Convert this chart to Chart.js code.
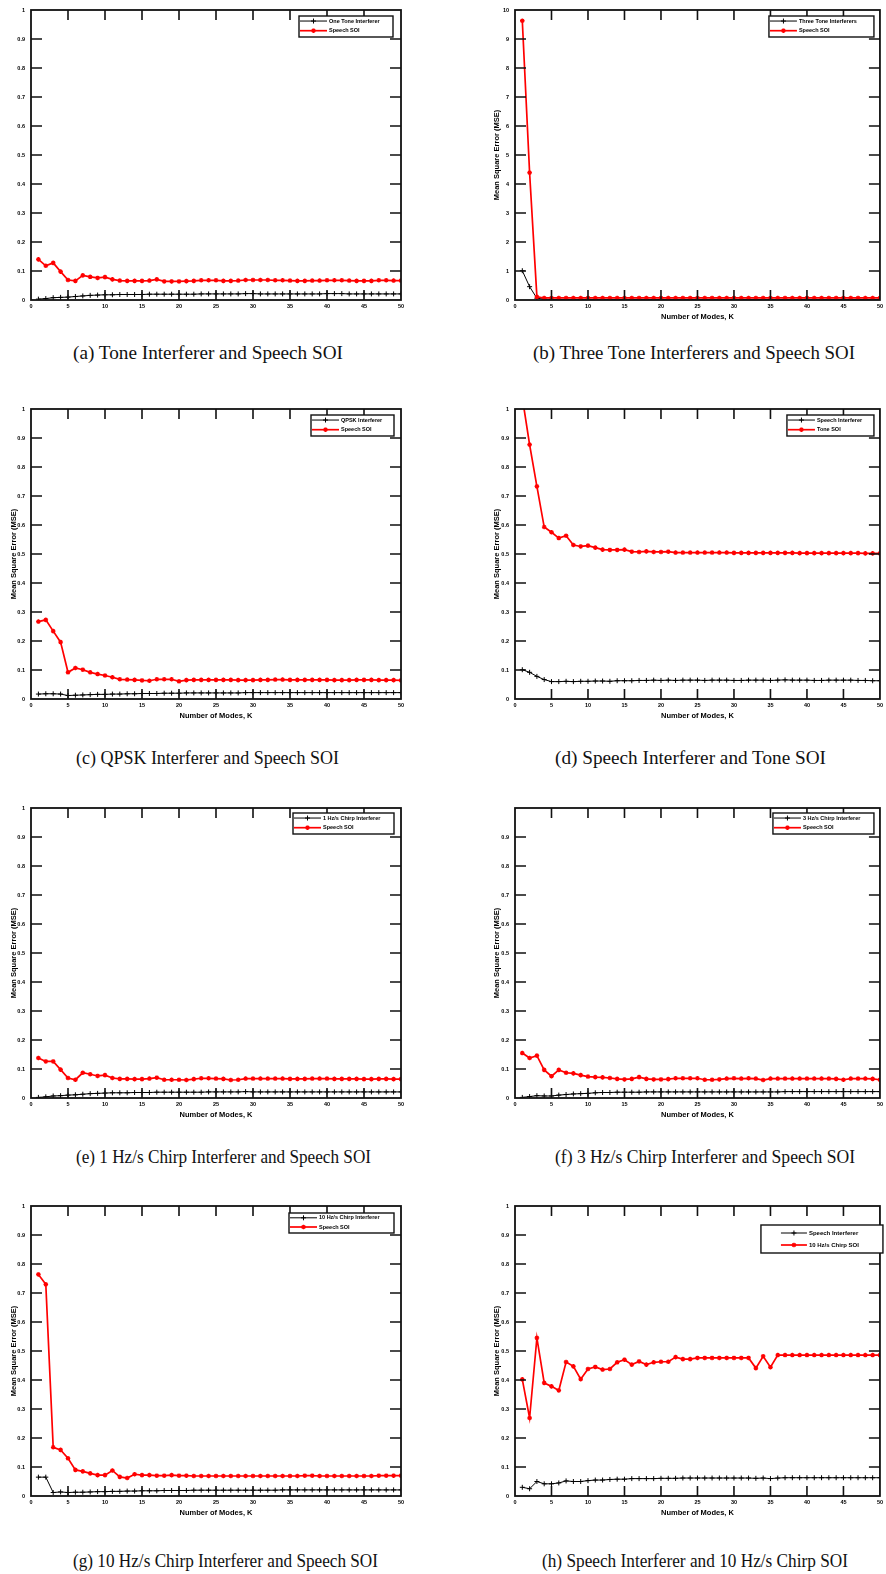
<!DOCTYPE html>
<html><head><meta charset="utf-8">
<script src="https://cdn.jsdelivr.net/npm/chart.js@4.4.0/dist/chart.umd.min.js"></script>
<style>
html,body{margin:0;padding:0;background:#fff;}
body{width:886px;height:1574px;position:relative;overflow:hidden;}
canvas{position:absolute;}
.cap{position:absolute;font-family:"Liberation Serif","DejaVu Serif",serif;font-size:19px;color:#111;white-space:nowrap;line-height:20px;transform-origin:0 50%;}
</style></head><body>
<script>
// ---------- DATA ----------
const K = [1,2,3,4,5,6,7,8,9,10,11,12,13,14,15,16,17,18,19,20,21,22,23,24,25,26,27,28,29,30,31,32,33,34,35,36,37,38,39,40,41,42,43,44,45,46,47,48,49,50];
const xTicks = [0,5,10,15,20,25,30,35,40,45,50];

const aBlack = [0.003,0.005,0.008,0.009,0.010,0.012,0.014,0.016,0.017,0.018,0.018,0.019,0.019,0.019,0.019,0.020,0.020,0.020,0.020,0.020,0.020,0.020,0.021,0.021,0.021,0.021,0.021,0.021,0.022,0.022,0.021,0.021,0.021,0.021,0.021,0.021,0.021,0.021,0.021,0.022,0.022,0.022,0.021,0.021,0.021,0.021,0.021,0.021,0.021,0.021];
const aRed = [0.140,0.118,0.128,0.098,0.069,0.066,0.085,0.080,0.076,0.079,0.071,0.067,0.066,0.066,0.066,0.067,0.071,0.064,0.064,0.064,0.065,0.066,0.068,0.068,0.068,0.066,0.066,0.067,0.069,0.069,0.069,0.069,0.068,0.068,0.067,0.066,0.066,0.067,0.067,0.068,0.068,0.068,0.067,0.066,0.066,0.066,0.068,0.068,0.067,0.067];

const bBlack = [1.01,0.46,0.06,0.03,0.02,0.02,0.02,0.02,0.02,0.02,0.02,0.02,0.02,0.02,0.02,0.02,0.02,0.02,0.02,0.02,0.02,0.02,0.02,0.02,0.02,0.02,0.02,0.02,0.02,0.02,0.02,0.02,0.02,0.02,0.02,0.02,0.02,0.02,0.02,0.02,0.02,0.02,0.02,0.02,0.02,0.02,0.02,0.02,0.02,0.02];
const bRed = [9.63,4.39,0.11,0.07,0.07,0.07,0.07,0.07,0.07,0.07,0.07,0.07,0.07,0.07,0.07,0.07,0.07,0.07,0.07,0.07,0.07,0.07,0.07,0.07,0.07,0.07,0.07,0.07,0.07,0.07,0.07,0.07,0.07,0.07,0.07,0.07,0.07,0.07,0.07,0.07,0.07,0.07,0.07,0.07,0.07,0.07,0.07,0.07,0.07,0.07];

const cBlack = [0.017,0.018,0.018,0.017,0.012,0.013,0.014,0.015,0.016,0.016,0.017,0.017,0.018,0.018,0.019,0.019,0.019,0.020,0.020,0.020,0.021,0.021,0.021,0.021,0.021,0.021,0.021,0.021,0.022,0.022,0.022,0.022,0.022,0.022,0.022,0.022,0.022,0.022,0.022,0.022,0.022,0.022,0.022,0.022,0.022,0.022,0.022,0.022,0.022,0.022];
const cRed = [0.267,0.273,0.234,0.196,0.092,0.107,0.101,0.092,0.086,0.081,0.075,0.068,0.067,0.066,0.064,0.063,0.068,0.068,0.068,0.061,0.065,0.066,0.066,0.066,0.066,0.066,0.066,0.065,0.065,0.065,0.066,0.066,0.067,0.067,0.066,0.066,0.066,0.066,0.066,0.066,0.065,0.065,0.065,0.066,0.066,0.066,0.065,0.065,0.065,0.064];

const dBlack = [0.101,0.092,0.078,0.067,0.060,0.060,0.061,0.060,0.061,0.061,0.062,0.062,0.061,0.063,0.063,0.063,0.064,0.064,0.065,0.064,0.065,0.064,0.065,0.065,0.065,0.064,0.065,0.065,0.065,0.064,0.064,0.065,0.065,0.065,0.064,0.065,0.066,0.065,0.065,0.065,0.064,0.064,0.065,0.065,0.065,0.065,0.064,0.064,0.063,0.063];
const dRed = [1.040,0.877,0.733,0.593,0.575,0.555,0.563,0.531,0.526,0.529,0.522,0.515,0.514,0.514,0.515,0.508,0.507,0.509,0.507,0.507,0.508,0.505,0.505,0.505,0.505,0.505,0.505,0.505,0.505,0.504,0.504,0.504,0.504,0.504,0.504,0.504,0.504,0.504,0.503,0.503,0.503,0.503,0.503,0.503,0.503,0.503,0.503,0.502,0.502,0.502];

const eBlack = [0.002,0.004,0.007,0.008,0.010,0.011,0.013,0.015,0.016,0.017,0.018,0.018,0.018,0.019,0.019,0.019,0.020,0.020,0.020,0.020,0.020,0.020,0.020,0.021,0.021,0.021,0.021,0.021,0.022,0.021,0.021,0.021,0.021,0.021,0.021,0.021,0.021,0.021,0.021,0.021,0.021,0.021,0.021,0.021,0.021,0.021,0.021,0.021,0.021,0.021];
const eRed = [0.138,0.126,0.126,0.098,0.069,0.063,0.087,0.082,0.076,0.079,0.069,0.066,0.066,0.065,0.065,0.067,0.070,0.063,0.063,0.063,0.062,0.065,0.068,0.068,0.067,0.066,0.062,0.063,0.067,0.067,0.067,0.067,0.067,0.067,0.066,0.066,0.066,0.067,0.067,0.067,0.066,0.066,0.066,0.066,0.065,0.065,0.066,0.066,0.065,0.065];

const fBlack = [0.002,0.005,0.008,0.007,0.007,0.010,0.012,0.014,0.015,0.016,0.018,0.019,0.019,0.020,0.020,0.020,0.020,0.021,0.021,0.021,0.021,0.021,0.021,0.021,0.021,0.021,0.021,0.021,0.021,0.021,0.021,0.021,0.021,0.021,0.021,0.021,0.022,0.022,0.022,0.022,0.022,0.022,0.022,0.022,0.022,0.022,0.022,0.022,0.022,0.022];
const fRed = [0.155,0.138,0.146,0.097,0.075,0.097,0.087,0.085,0.079,0.074,0.072,0.071,0.069,0.066,0.064,0.066,0.072,0.066,0.064,0.064,0.065,0.068,0.068,0.068,0.068,0.063,0.063,0.064,0.067,0.068,0.067,0.068,0.067,0.062,0.067,0.067,0.067,0.067,0.067,0.067,0.067,0.067,0.067,0.066,0.063,0.067,0.067,0.067,0.066,0.063];

const gBlack = [0.065,0.065,0.012,0.014,0.012,0.013,0.013,0.014,0.015,0.015,0.016,0.016,0.017,0.017,0.018,0.018,0.018,0.019,0.019,0.019,0.019,0.020,0.020,0.020,0.020,0.020,0.020,0.020,0.020,0.020,0.020,0.020,0.020,0.021,0.021,0.021,0.021,0.021,0.021,0.021,0.021,0.021,0.021,0.021,0.021,0.021,0.021,0.021,0.021,0.021];
const gRed = [0.764,0.730,0.168,0.159,0.130,0.090,0.085,0.078,0.072,0.072,0.088,0.066,0.062,0.075,0.072,0.072,0.070,0.070,0.072,0.070,0.070,0.069,0.069,0.069,0.069,0.069,0.069,0.069,0.069,0.069,0.069,0.069,0.069,0.069,0.069,0.069,0.070,0.070,0.069,0.069,0.069,0.069,0.069,0.069,0.069,0.069,0.070,0.070,0.070,0.070];

const hBlack = [0.030,0.025,0.050,0.042,0.042,0.045,0.052,0.050,0.050,0.053,0.055,0.055,0.057,0.058,0.058,0.060,0.060,0.060,0.060,0.061,0.061,0.061,0.062,0.062,0.062,0.062,0.062,0.062,0.062,0.062,0.062,0.062,0.061,0.062,0.060,0.062,0.063,0.063,0.063,0.063,0.063,0.063,0.063,0.063,0.063,0.063,0.063,0.063,0.063,0.063];
const hRed = [0.402,0.269,0.545,0.390,0.378,0.364,0.462,0.447,0.403,0.438,0.445,0.436,0.438,0.461,0.470,0.453,0.464,0.453,0.461,0.463,0.463,0.479,0.472,0.472,0.476,0.476,0.476,0.476,0.476,0.476,0.476,0.476,0.441,0.482,0.444,0.486,0.486,0.486,0.486,0.486,0.486,0.486,0.486,0.486,0.486,0.486,0.486,0.486,0.486,0.486];

const yTitle = 'Mean Square Error (MSE)';
const xTitle = 'Number of Modes, K';

const panels = [
  {black:aBlack, red:aRed, bl:'One Tone Interferer', rl:'Speech SOI', ymax:1, step:0.1, cap:'(a) Tone Interferer and Speech SOI', col:0, row:0, xt:false, yt:false},
  {black:bBlack, red:bRed, bl:'Three Tone Interferers', rl:'Speech SOI', ymax:10, step:1, cap:'(b) Three Tone Interferers and Speech SOI', col:1, row:0, xt:true, yt:true},
  {black:cBlack, red:cRed, bl:'QPSK Interferer', rl:'Speech SOI', ymax:1, step:0.1, cap:'(c) QPSK Interferer and Speech SOI', col:0, row:1, xt:true, yt:true},
  {black:dBlack, red:dRed, bl:'Speech Interferer', rl:'Tone SOI', ymax:1, step:0.1, cap:'(d) Speech Interferer and Tone SOI', col:1, row:1, xt:true, yt:true},
  {black:eBlack, red:eRed, bl:'1 Hz/s Chirp Interferer', rl:'Speech SOI', ymax:1, step:0.1, cap:'(e) 1 Hz/s Chirp Interferer and Speech SOI', col:0, row:2, xt:true, yt:true},
  {black:fBlack, red:fRed, bl:'3 Hz/s Chirp Interferer', rl:'Speech SOI', ymax:1, step:0.1, cap:'(f) 3 Hz/s Chirp Interferer and Speech SOI', col:1, row:2, xt:true, yt:true, hideTop:true},
  {black:gBlack, red:gRed, bl:'10 Hz/s Chirp Interferer', rl:'Speech SOI', ymax:1, step:0.1, cap:'(g) 10 Hz/s Chirp Interferer and Speech SOI', col:0, row:3, xt:true, yt:true},
  {black:hBlack, red:hRed, bl:'Speech Interferer', rl:'10 Hz/s Chirp SOI', ymax:1, step:0.1, cap:'(h) Speech Interferer and 10 Hz/s Chirp SOI', col:1, row:3, xt:true, yt:true}
];

// ---------- LAYOUT ----------
const rowTops = [10, 409, 808, 1206];
const colCanvas = [{left:0, width:420, axisW:31, padR:19, titlePad:9}, {left:470, width:416, axisW:45, padR:4, titlePad:22}];
const legendBoxes = [
  {r:8, t:6, w:94, h:21, s:27},
  {r:6, t:6, w:105, h:21, s:27},
  {r:7, t:6, w:83, h:21, s:27},
  {r:6, t:6, w:87, h:21, s:27},
  {r:7, t:5, w:101, h:21, s:27},
  {r:6, t:5, w:101, h:21, s:27},
  {r:7, t:7, w:105, h:20, s:27},
  {r:-3, t:19, w:122, h:28, s:26, pre:20, big:true}
];
const captions = [
  {x:73, y:353, w:270}, {x:533, y:353, w:322}, {x:76, y:758, w:263}, {x:555, y:758, w:271},
  {x:76, y:1157, w:295}, {x:555, y:1157, w:300}, {x:73, y:1561, w:305}, {x:542, y:1561, w:306}
];

function drawMarker(ctx, type, x, y, r) {
  ctx.beginPath();
  if (type === 'cross') {
    ctx.moveTo(x - r, y); ctx.lineTo(x + r, y);
    ctx.moveTo(x, y - r); ctx.lineTo(x, y + r);
  } else {
    for (let i = 0; i < 4; i++) {
      const a = i * Math.PI / 4;
      ctx.moveTo(x - r * Math.cos(a), y - r * Math.sin(a));
      ctx.lineTo(x + r * Math.cos(a), y + r * Math.sin(a));
    }
  }
  ctx.stroke();
}

const boxPlugin = {
  id: 'matlabBox',
  afterDatasetsDraw(chart, args, opts) {
    const {ctx, chartArea: a} = chart;
    const xs = chart.scales.x, ys = chart.scales.y;
    const tl = 10;
    ctx.save();
    ctx.strokeStyle = '#111';
    ctx.lineWidth = 1.6;
    ctx.beginPath();
    xs.ticks.forEach(t => {
      const px = xs.getPixelForValue(t.value);
      if (px <= a.left + 1 || px >= a.right - 1) return;
      ctx.moveTo(px, a.bottom); ctx.lineTo(px, a.bottom - tl);
      ctx.moveTo(px, a.top); ctx.lineTo(px, a.top + tl);
    });
    ys.ticks.forEach(t => {
      const py = ys.getPixelForValue(t.value);
      if (py <= a.top + 1 || py >= a.bottom - 1) return;
      ctx.moveTo(a.left, py); ctx.lineTo(a.left + tl + 1, py);
      ctx.moveTo(a.right, py); ctx.lineTo(a.right - tl - 1, py);
    });
    ctx.stroke();
    ctx.lineWidth = 1.8;
    ctx.strokeRect(a.left, a.top, a.right - a.left, a.bottom - a.top);

    // legend
    const L = opts.box;
    const bx = a.right - L.r - L.w, by = a.top + L.t;
    ctx.fillStyle = '#fff';
    ctx.fillRect(bx, by, L.w, L.h);
    ctx.lineWidth = 1.4;
    ctx.strokeStyle = '#111';
    ctx.strokeRect(bx, by, L.w, L.h);
    const dsOrder = [0, 1];
    const rows = L.big ? [by + 8, by + 20] : [by + L.h * 0.24, by + L.h * 0.7];
    const pre = L.pre || 1;
    ctx.font = 'bold ' + (L.big ? 6 : 5.5) + 'px "Liberation Sans", Arial, sans-serif';
    ctx.textBaseline = 'middle';
    ctx.textAlign = 'left';
    dsOrder.forEach((di, i) => {
      const ds = chart.data.datasets[di];
      const y = rows[i];
      ctx.strokeStyle = ds.borderColor;
      ctx.lineWidth = ds.borderWidth;
      ctx.beginPath();
      ctx.moveTo(bx + pre, y); ctx.lineTo(bx + pre + L.s, y);
      ctx.stroke();
      ctx.lineWidth = ds.pointBorderWidth;
      drawMarker(ctx, ds.pointStyle, bx + pre + L.s / 2, y, ds.pointRadius);
      ctx.fillStyle = '#000';
      ctx.fillText(ds.label, bx + pre + L.s + 2, y);
    });
    ctx.restore();
  }
};

const tickFont = {size: 5.5, weight: 'bold', family: '"Liberation Sans", Arial, sans-serif'};
const titleFont = {size: 7.5, weight: 'bold', family: '"Liberation Sans", Arial, sans-serif'};

panels.forEach((p, idx) => {
  const cc = colCanvas[p.col];
  const cv = document.createElement('canvas');
  cv.width = cc.width; cv.height = 332;
  cv.style.left = cc.left + 'px';
  cv.style.top = (rowTops[p.row] - 10) + 'px';
  cv.style.width = cc.width + 'px'; cv.style.height = '332px';
  document.body.appendChild(cv);

  const cap = document.createElement('div');
  cap.className = 'cap';
  cap.textContent = p.cap;
  cap.style.left = captions[idx].x + 'px';
  cap.style.top = (captions[idx].y - 10) + 'px';
  document.body.appendChild(cap);
  const natural = cap.getBoundingClientRect().width;
  if (natural > 0) cap.style.transform = 'scaleX(' + (captions[idx].w / natural).toFixed(4) + ')';

  new Chart(cv, {
    type: 'line',
    data: {
      datasets: [
        {label: p.bl, data: K.map((k, i) => ({x: k, y: p.black[i]})), borderColor: '#000', borderWidth: 1,
         pointStyle: 'cross', pointRadius: 2.5, pointBorderColor: '#000', pointBorderWidth: 1, fill: false, tension: 0, order: 1},
        {label: p.rl, data: K.map((k, i) => ({x: k, y: p.red[i]})), borderColor: '#ff0000', borderWidth: 1.7,
         pointStyle: 'star', pointRadius: 2.3, pointBorderColor: '#ff0000', pointBackgroundColor: '#ff0000', pointBorderWidth: 1.3, fill: false, tension: 0, order: 0}
      ]
    },
    options: {
      responsive: false, animation: false, events: [],
      layout: {padding: {top: 10, right: cc.padR, left: 0, bottom: 0}},
      plugins: {legend: {display: false}, tooltip: {enabled: false}, matlabBox: {box: legendBoxes[idx]}},
      scales: {
        x: {
          type: 'linear', min: 0, max: 50,
          afterFit(s) { s.height = 32; },
          afterBuildTicks(s) { s.ticks = xTicks.map(v => ({value: v})); },
          grid: {display: false, drawTicks: false}, border: {display: false},
          ticks: {autoSkip: false, maxRotation: 0, minRotation: 0, padding: 3, color: '#000', font: tickFont},
          title: {display: p.xt, text: xTitle, color: '#000', font: titleFont, padding: {top: 0, bottom: 11}}
        },
        y: {
          type: 'linear', min: 0, max: p.ymax,
          afterFit(s) { s.width = cc.axisW; },
          grid: {display: false, drawTicks: false}, border: {display: false},
          ticks: {stepSize: p.step, autoSkip: false, padding: 6, color: '#000', font: tickFont,
            callback(v) { if (p.hideTop && v === p.ymax) return ''; return Math.round(v * 10) / 10 + ''; }},
          title: {display: p.yt, text: yTitle, color: '#000', font: titleFont, padding: {top: cc.titlePad, bottom: 0}}
        }
      }
    },
    plugins: [boxPlugin]
  });
});
</script>
</body></html>
